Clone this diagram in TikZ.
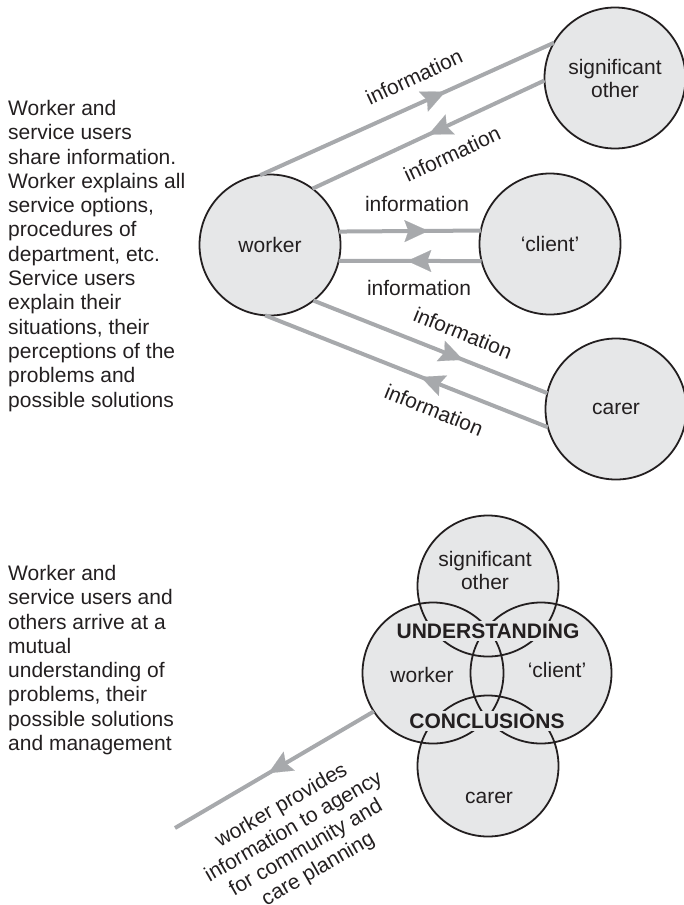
\documentclass[tikz,border=0pt]{standalone}
\usepackage{fontspec}
\setmainfont{Liberation Sans}
\usetikzlibrary{arrows.meta,decorations.markings}

\definecolor{discfill}{HTML}{E6E7E8}
\definecolor{flowgray}{HTML}{A7A9AC}
\definecolor{ink}{HTML}{231F20}

\newcommand\diagfont{\fontsize{21}{24.3}\selectfont}
\newcommand\tightfont{\fontsize{21}{23}\selectfont}
\newcommand\slantfont{\fontsize{21}{24.5}\selectfont}

\tikzset{
  party/.style={circle, draw=ink, line width=1.8pt, fill=discfill,
    minimum size=141pt, inner sep=0pt, outer sep=0pt, align=center,
    font=\tightfont, text=ink},
  ring/.style={circle, draw=ink, line width=1.8pt,
    minimum size=141pt, inner sep=0pt, outer sep=0pt},
  flow/.style={draw=flowgray, line width=4pt, postaction={decorate},
    decoration={markings, mark=at position #1 with
      {\arrow[flowgray]{Stealth[length=24pt,width=22pt,inset=4pt,line width=0.1pt]}}}},
  infolabel/.style={font=\diagfont, text=ink, inner sep=1pt},
  vennlabel/.style={font=\tightfont, text=ink, inner sep=1pt, align=center},
  keyword/.style={font=\diagfont\bfseries, text=ink, fill=discfill,
    inner xsep=2pt, inner ysep=3pt},
  notes/.style={font=\diagfont, text=ink, align=left, inner sep=0pt,
    anchor=north west},
  planning/.style={font=\slantfont, text=ink, inner sep=1pt, align=center},
}

\begin{document}
\begin{tikzpicture}[x=1pt, y=-1pt]
\useasboundingbox (0,0) rectangle (684,905);

% ---- exchange of information ----
\node[notes] (share) at (8,100) {Worker and\\service users\\share information.\\Worker explains all\\service options,\\procedures of\\department, etc.\\Service users\\explain their\\situations, their\\perceptions of the\\problems and\\possible solutions};

\node[party] (worker) at (270,245) {worker};
\node[party] (client) at (550,244) {‘client’};
\node[party] (sig)    at (615,78)  {significant\\other};
\node[party] (carer)  at (616,409) {carer};

\draw[flow=0.63] (worker.98)   -- (sig.150);
\draw[flow=0.5]  (sig.182)     -- (worker.53);
\draw[flow=0.63] (worker.11)   -- (client.169);
\draw[flow=0.52] (client.-166) -- (worker.-13);
\draw[flow=0.64] (worker.-52)  -- (carer.167);
\draw[flow=0.45] (carer.-165)  -- (worker.-94);

\node[infolabel, rotate=25]  (info1) at (414,77)  {information};
\node[infolabel, rotate=25]  (info2) at (452,154) {information};
\node[infolabel]             (info3) at (417,204) {information};
\node[infolabel]             (info4) at (419,288) {information};
\node[infolabel, rotate=-22] (info5) at (463,333) {information};
\node[infolabel, rotate=-22] (info6) at (434,410) {information};

% ---- shared understanding ----
\node[notes] (mutual) at (8,565) {Worker and\\service users and\\others arrive at a\\mutual\\understanding of\\problems, their\\possible solutions\\and management};

\foreach \p in {(488,586),(433,673),(541,673),(488,766)}
  \fill[discfill] \p circle[radius=70.5pt];

\node[ring] (vsig)    at (488,586) {};
\node[ring] (vworker) at (433,673) {};
\node[ring] (vclient) at (541,673) {};
\node[ring] (vcarer)  at (488,766) {};

\node[vennlabel] (tsig)    at (485,570) {significant\\other};
\node[keyword]   (tund)    at (488,631) {UNDERSTANDING};
\node[vennlabel] (tworker) at (422,675) {worker};
\node[vennlabel] (tclient) at (557,670) {‘client’};
\node[keyword]   (tcon)    at (487,721) {CONCLUSIONS};
\node[vennlabel] (tcarer)  at (489,798) {carer};

\coordinate (agency) at (175,828);
\draw[flow=0.53] (vworker.213) -- (agency);

\node[planning, rotate=30] (plan) at (300,838)
  {worker provides\\information to agency\\for community and\\care planning};
\end{tikzpicture}
\end{document}
